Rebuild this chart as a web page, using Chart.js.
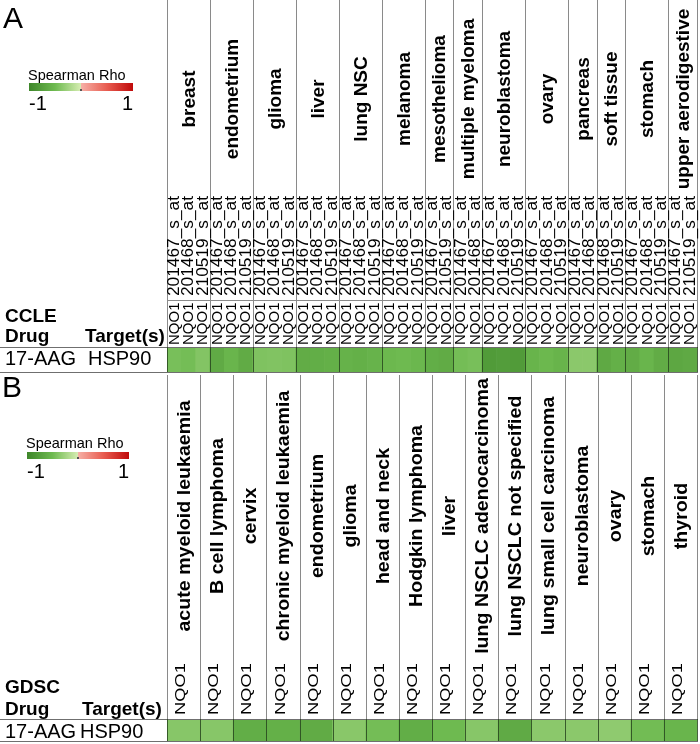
<!DOCTYPE html>
<html>
<head>
<meta charset="utf-8">
<script src="https://cdn.jsdelivr.net/npm/chart.js@4.4.1/dist/chart.umd.min.js"></script>
<style>
body { margin: 0; background: #fff; }
.panel { position: absolute; left: 0; }
</style>
</head>
<body>
<div class="panel" style="top:0"><canvas id="ccle" width="700" height="375"></canvas></div>
<div class="panel" style="top:375px"><canvas id="gdsc" width="700" height="369"></canvas></div>
<script>
const geneName = "NQO1";
const drugName = "17-AAG";
const drugTarget = "HSP90";

// CCLE: tissues, probes per tissue, rho per probe
const ccleTissues = ["breast", "endometrium", "glioma", "liver", "lung NSC", "melanoma",
  "mesothelioma", "multiple myeloma", "neuroblastoma", "ovary", "pancreas",
  "soft tissue", "stomach", "upper aerodigestive"];
const ccleProbes = [
  ["201467_s_at", "201468_s_at", "210519_s_at"],
  ["201467_s_at", "201468_s_at", "210519_s_at"],
  ["201467_s_at", "201468_s_at", "210519_s_at"],
  ["201467_s_at", "201468_s_at", "210519_s_at"],
  ["201467_s_at", "201468_s_at", "210519_s_at"],
  ["201467_s_at", "201468_s_at", "210519_s_at"],
  ["201467_s_at", "210519_s_at"],
  ["201467_s_at", "201468_s_at"],
  ["201467_s_at", "201468_s_at", "210519_s_at"],
  ["201467_s_at", "201468_s_at", "210519_s_at"],
  ["201467_s_at", "201468_s_at"],
  ["201468_s_at", "210519_s_at"],
  ["201467_s_at", "201468_s_at", "210519_s_at"],
  ["201467_s_at", "210519_s_at"]
];
const ccleRho = [
  [-0.45, -0.47, -0.40],
  [-0.65, -0.55, -0.64],
  [-0.42, -0.41, -0.42],
  [-0.63, -0.62, -0.60],
  [-0.58, -0.60, -0.57],
  [-0.52, -0.50, -0.53],
  [-0.62, -0.64],
  [-0.47, -0.45],
  [-0.80, -0.78, -0.80],
  [-0.56, -0.52, -0.56],
  [-0.36, -0.36],
  [-0.66, -0.60],
  [-0.63, -0.55, -0.63],
  [-0.68, -0.66]
];

// GDSC: one NQO1 column per tissue
const gdscTissues = ["acute myeloid leukaemia", "B cell lymphoma", "cervix",
  "chronic myeloid leukaemia", "endometrium", "glioma", "head and neck",
  "Hodgkin lymphoma", "liver", "lung NSCLC adenocarcinoma", "lung NSCLC not specified",
  "lung small cell carcinoma", "neuroblastoma", "ovary", "stomach", "thyroid"];
const gdscRho = [-0.38, -0.38, -0.62, -0.60, -0.64, -0.37, -0.47, -0.62, -0.50,
  -0.38, -0.65, -0.36, -0.36, -0.34, -0.48, -0.55];

// colour scale for Spearman rho
const greenStops = [[62, 134, 42], [110, 186, 80], [214, 237, 178]];
const redStops = [[246, 176, 166], [232, 92, 80], [192, 10, 10]];
function mix(a, b, t) { return a.map((v, i) => Math.round(v + (b[i] - v) * t)); }
function rhoColor(r) {
  let c;
  if (r <= 0) {
    const u = Math.max(0, Math.min(2, (r + 1) * 2));
    c = u <= 1 ? mix(greenStops[0], greenStops[1], u) : mix(greenStops[1], greenStops[2], u - 1);
  } else {
    const u = Math.max(0, Math.min(2, r * 2));
    c = u <= 1 ? mix(redStops[0], redStops[1], u) : mix(redStops[1], redStops[2], u - 1);
  }
  return "rgb(" + c.join(",") + ")";
}

const FONT = '"Liberation Sans", Arial, sans-serif';

function vText(ctx, txt, x, yBottom, font, stretch, align) {
  ctx.save();
  ctx.translate(x, yBottom);
  ctx.rotate(-Math.PI / 2);
  ctx.scale(stretch, 1);
  ctx.font = font;
  ctx.textAlign = align || "left";
  ctx.textBaseline = "middle";
  ctx.fillStyle = "#000";
  ctx.fillText(txt, 0, 0);
  ctx.restore();
}

const heatHeader = {
  id: "heatHeader",
  afterDraw(chart, args, o) {
    const ctx = chart.ctx;
    const xs = chart.scales.x;
    const area = chart.chartArea;
    const n = chart.data.labels.length;
    const step = xs.getPixelForValue(1) - xs.getPixelForValue(0);
    const edge = k => Math.round(k < n ? xs.getPixelForValue(k) - step / 2 : xs.getPixelForValue(n - 1) + step / 2);

    // panel letter
    ctx.fillStyle = "#000";
    ctx.font = "30px " + FONT;
    ctx.textAlign = "left";
    ctx.textBaseline = "alphabetic";
    ctx.fillText(o.letter, o.letterX, o.letterY);

    // legend
    ctx.font = "14.5px " + FONT;
    ctx.fillText("Spearman Rho", o.barX - 1, o.legendY);
    const g = ctx.createLinearGradient(o.barX, 0, o.barX + o.barW, 0);
    [[0, -1], [0.25, -0.5], [0.499, -0.0001], [0.5, 0.0001], [0.75, 0.5], [1, 1]]
      .forEach(s => g.addColorStop(s[0], rhoColor(s[1])));
    ctx.fillStyle = g;
    ctx.fillRect(o.barX, o.barY, o.barW, o.barH);
    ctx.fillStyle = "#555";
    ctx.fillRect(Math.round(o.barX + o.barW / 2) - 1, o.barY + o.barH - 2, 2, 2);
    ctx.fillStyle = "#000";
    ctx.font = "20px " + FONT;
    ctx.fillText("-1", o.barX, o.tickY);
    ctx.textAlign = "right";
    ctx.fillText("1", o.barX + o.barW, o.tickY);

    // row header
    ctx.textAlign = "left";
    ctx.font = "bold 19px " + FONT;
    ctx.fillText(o.source, 5, o.sourceY);
    ctx.fillText("Drug", 5, o.drugY);
    ctx.fillText("Target(s)", o.targetX, o.drugY);
    ctx.font = "20px " + FONT;
    ctx.fillText(drugName, 5, o.rowY);
    ctx.fillText(drugTarget, o.hspX, o.rowY);

    // grid lines
    ctx.lineWidth = 1;
    ctx.strokeStyle = "#8a8a8a";
    const L = edge(0), R = edge(n);
    const line = (x1, y1, x2, y2) => { ctx.beginPath(); ctx.moveTo(x1, y1); ctx.lineTo(x2, y2); ctx.stroke(); };
    let start = 0;
    const bounds = [0];
    o.groupSizes.forEach(s => { start += s; bounds.push(start); });
    bounds.forEach(k => line(edge(k) + 0.5, 0, edge(k) + 0.5, area.top));
    if (o.probeLineY) line(L, o.probeLineY + 0.5, R + 1, o.probeLineY + 0.5);
    ctx.strokeStyle = "#6f6f6f";
    line(0, area.top + 0.5, R + 1, area.top + 0.5);
    line(0, area.bottom + 0.5, R + 1, area.bottom + 0.5);
    ctx.strokeStyle = "rgba(40,70,30,0.85)";
    bounds.forEach(k => line(edge(k) + 0.5, area.top, edge(k) + 0.5, area.bottom));

    // tissue labels
    bounds.slice(0, -1).forEach((k, i) => {
      const cx = (edge(k) + edge(bounds[i + 1])) / 2 + 1;
      vText(ctx, o.tissues[i], cx, o.tissueY, "bold " + o.tissueFont + " " + FONT, o.tissueStretch, "center");
    });

    // gene / probe labels
    for (let i = 0; i < n; i++) {
      const cx = xs.getPixelForValue(i) + 0.5;
      vText(ctx, geneName, cx + o.geneShift, o.geneBottom, o.geneFont + " " + FONT, o.geneStretch);
      if (o.probes) vText(ctx, o.probes[i], cx, o.probeBottom, o.probeFont + " " + FONT, o.probeStretch);
    }
  }
};

function makePanel(id, labels, rhos, pad, header) {
  return new Chart(document.getElementById(id), {
    type: "bar",
    data: {
      labels: labels,
      datasets: [{
        data: rhos.map(() => 1),
        backgroundColor: rhos.map(rhoColor),
        borderWidth: 0,
        barPercentage: 1,
        categoryPercentage: 1
      }]
    },
    options: {
      responsive: false,
      animation: false,
      layout: { padding: pad },
      scales: {
        x: { display: false },
        y: { display: false, min: 0, max: 1 }
      },
      plugins: {
        legend: { display: false },
        tooltip: { enabled: false },
        heatHeader: header
      }
    },
    plugins: [heatHeader]
  });
}

const ccleLabels = ccleTissues.flatMap((t, i) => ccleProbes[i].map(p => t + " " + p));
makePanel("ccle", ccleLabels, ccleRho.flat(), { left: 167, right: 3, top: 347, bottom: 3 }, {
  letter: "A", letterX: 3, letterY: 28,
  legendY: 80, barX: 29, barY: 83, barW: 104, barH: 8, tickY: 110,
  tissues: ccleTissues, groupSizes: ccleProbes.map(p => p.length),
  tissueY: 99, tissueFont: "19px", tissueStretch: 1,
  probes: ccleProbes.flat(), probeBottom: 296, probeFont: "16px", probeStretch: 1.08,
  probeLineY: 300,
  geneBottom: 345, geneFont: "15px", geneStretch: 1, geneShift: 0,
  source: "CCLE", sourceY: 322, drugY: 342, targetX: 85, rowY: 365, hspX: 88
});

makePanel("gdsc", gdscTissues, gdscRho, { left: 167, right: 3, top: 344, bottom: 3 }, {
  letter: "B", letterX: 2, letterY: 22,
  legendY: 73, barX: 27, barY: 77, barW: 102, barH: 7, tickY: 103,
  tissues: gdscTissues, groupSizes: gdscTissues.map(() => 1),
  tissueY: 141, tissueFont: "18.5px", tissueStretch: 1.06,
  probes: null, probeLineY: null,
  geneBottom: 340, geneFont: "15px", geneStretch: 1.22, geneShift: -3,
  source: "GDSC", sourceY: 318, drugY: 340, targetX: 82, rowY: 363, hspX: 80
});
</script>
</body>
</html>
